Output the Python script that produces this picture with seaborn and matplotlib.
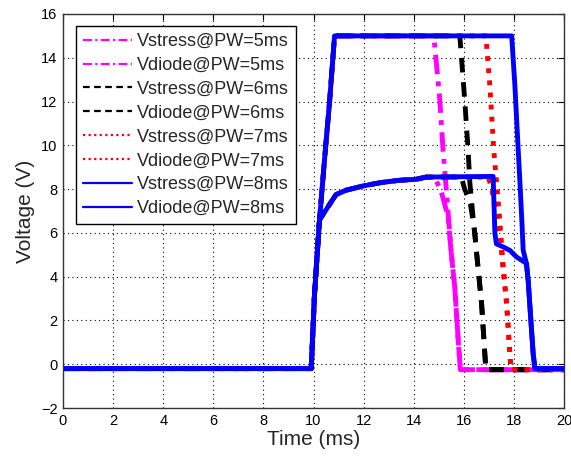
import numpy as np
import pandas as pd
import matplotlib
matplotlib.use("Agg")
import matplotlib.pyplot as plt
import seaborn as sns

# ---------------- data ----------------
# common parts
BASE_T = [0.0, 9.91]
BASE_V = [-0.2, -0.2]
RISE_T = [10.04, 10.24, 10.44, 10.64, 10.84]
RISE_V = [3.2, 6.6, 9.35, 11.97, 15.0]
DIODE_RISE_T = [10.04, 10.24, 10.44, 10.64, 10.9, 11.3, 12.0, 12.7, 13.4, 14.1, 14.5]
DIODE_RISE_V = [3.2, 6.6, 6.95, 7.3, 7.75, 7.95, 8.15, 8.3, 8.4, 8.45, 8.55]
END_T = 20.0

# PW = 5 ms
stress5_t = [14.80, 15.04, 15.17, 15.30, 15.50, 15.64, 15.77, 15.86]
stress5_v = [15.0, 12.1, 9.8, 8.0, 5.05, 3.5, 1.2, -0.25]
diode5_t = [14.84, 15.08, 15.37, 15.50, 15.64, 15.77, 15.86]
diode5_v = [8.5, 7.97, 6.74, 5.05, 3.5, 1.2, -0.25]
# PW = 6 ms
stress6_t = [15.84, 16.04, 16.17, 16.24, 16.37, 16.50, 16.71, 16.84, 16.88]
stress6_v = [15.0, 12.0, 9.8, 8.3, 6.7, 5.2, 2.75, 0.45, -0.25]
diode6_t = [15.90, 16.04, 16.24, 16.44, 16.50, 16.71, 16.84, 16.88]
diode6_v = [8.55, 7.97, 7.5, 6.0, 5.2, 2.75, 0.45, -0.25]
# PW = 7 ms
stress7_t = [16.88, 17.04, 17.20, 17.30, 17.44, 17.57, 17.71, 17.84, 17.88]
stress7_v = [15.0, 12.7, 9.7, 8.4, 6.5, 4.5, 2.75, 0.45, -0.25]
diode7_t = [16.97, 17.10, 17.24, 17.37, 17.44, 17.57, 17.71, 17.84, 17.88]
diode7_v = [8.55, 8.1, 7.2, 6.3, 6.0, 4.3, 2.75, 0.45, -0.25]
# PW = 8 ms
stress8_t = [17.91, 18.04, 18.17, 18.24, 18.31, 18.37, 18.50, 18.57, 18.70, 18.77, 18.84]
stress8_v = [15.0, 12.7, 9.8, 8.3, 6.7, 5.2, 4.6, 3.8, 1.6, 0.45, -0.2]
diode8_t = [17.17, 17.24, 17.30, 17.57, 17.84, 18.10, 18.31, 18.50, 18.57, 18.70, 18.77, 18.84]
diode8_v = [8.58, 6.0, 5.5, 5.36, 5.2, 4.9, 4.75, 4.6, 3.8, 1.6, 0.45, -0.2]

labels = ["Vstress@PW=5ms", "Vdiode@PW=5ms", "Vstress@PW=6ms", "Vdiode@PW=6ms",
          "Vstress@PW=7ms", "Vdiode@PW=7ms", "Vstress@PW=8ms", "Vdiode@PW=8ms"]
colors = ["#ff00ff", "#ff00ff", "#000000", "#000000",
          "#ff0000", "#ff0000", "#0000ff", "#0000ff"]
dash_list = [(4, 1.5, 1, 1.5), (4, 1.5, 1, 1.5), (3, 2), (3, 2),
             (1, 1.5), (1, 1.5), "", ""]

falls = [(stress5_t, stress5_v), (diode5_t, diode5_v),
         (stress6_t, stress6_v), (diode6_t, diode6_v),
         (stress7_t, stress7_v), (diode7_t, diode7_v),
         (stress8_t, stress8_v), (diode8_t, diode8_v)]

rows = []
for i, (lab, (ft, fv)) in enumerate(zip(labels, falls)):
    if lab.startswith("Vstress"):
        tt = BASE_T + RISE_T + ft + [END_T]
        vv = BASE_V + RISE_V + fv + [fv[-1]]
    else:
        tt = BASE_T + DIODE_RISE_T + ft + [END_T]
        vv = BASE_V + DIODE_RISE_V + fv + [fv[-1]]
    for k, (a, b) in enumerate(zip(tt, vv)):
        rows.append({"t": a, "V": b, "series": lab, "order": k})
df = pd.DataFrame(rows)

# ---------------- plotting ----------------
sns.set_style("white")
plt.rcParams["font.family"] = ["Liberation Sans", "DejaVu Sans"]

fig = plt.figure(figsize=(5.71, 4.59), dpi=100)
ax = fig.add_axes([0.1103, 0.1111, 0.8775, 0.8584])

sns.lineplot(data=df, x="t", y="V", hue="series", style="series",
             hue_order=labels, style_order=labels,
             palette=dict(zip(labels, colors)),
             dashes=dict(zip(labels, dash_list)),
             units="series", estimator=None, sort=False,
             linewidth=3.5, ax=ax, legend=True)

ax.set_xlim(0, 20)
ax.set_ylim(-2, 16)
ax.set_xticks(np.arange(0, 21, 2))
ax.set_yticks(np.arange(-2, 17, 2))
ax.grid(True, linestyle=(0, (1, 3)), color="black", linewidth=0.8)
ax.set_axisbelow(True)
ax.tick_params(direction="in", top=True, right=True, length=4,
               labelsize=10.5, colors="black", width=0.8, pad=4)
for s in ax.spines.values():
    s.set_color("#333333")
    s.set_linewidth(1.0)
ax.set_xlabel("Time (ms)", fontsize=15, labelpad=2)
ax.set_ylabel("Voltage (V)", fontsize=15, labelpad=4)

sns.move_legend(ax, loc="upper left", bbox_to_anchor=(0.026, 0.97),
                borderaxespad=0, title=None, frameon=True, fancybox=False,
                fontsize=13, handlelength=2.7, handletextpad=0.3,
                labelspacing=0.38, borderpad=0.4, framealpha=1)
leg = ax.get_legend()
leg.get_frame().set_edgecolor("black")
leg.get_frame().set_linewidth(1.0)
for ln in leg.get_lines():
    ln.set_linewidth(1.6)

fig.savefig("out.png", dpi=100)
